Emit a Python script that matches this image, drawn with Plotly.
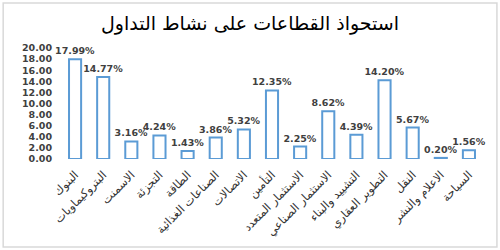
import plotly.graph_objects as go

categories = ["البنوك", "البتروكيماويات", "الاسمنت", "التجزئة", "الطاقة",
              "الصناعات الغذائية", "الاتصالات", "التأمين", "الاستثمار المتعدد",
              "الاستثمار الصناعي", "التشييد والبناء", "التطوير العقاري", "النقل",
              "الاعلام والنشر", "السياحة"]
values = [17.99, 14.77, 3.16, 4.24, 1.43, 3.86, 5.32, 12.35, 2.25, 8.62,
          4.39, 14.20, 5.67, 0.20, 1.56]
y_ticks = [0, 2, 4, 6, 8, 10, 12, 14, 16, 18, 20]
title_text = "استحواذ القطاعات على نشاط التداول"

fig = go.Figure(go.Bar(
    x=categories, y=values,
    width=0.43,
    marker=dict(color="white", line=dict(color="#5b9bd5", width=2)),
    texttemplate="%{y:.2f}%", textposition="outside", constraintext="none",
    textfont=dict(family="DejaVu Sans", size=9.5, color="#404040", weight="bold"),
    cliponaxis=False,
))

fig.update_layout(
    width=500, height=250,
    margin=dict(l=61, r=17, t=48, b=91),
    paper_bgcolor="white", plot_bgcolor="white",
    showlegend=False,
    title=dict(text=title_text, x=0.5, xanchor="center", y=0.905, yanchor="middle",
               font=dict(family="DejaVu Sans", size=19, color="#000000")),
    xaxis=dict(tickangle=-45, tickfont=dict(family="DejaVu Sans", size=11.5, color="#333333"),
               ticklabelstandoff=6,
               showgrid=False, showline=False, ticks="", range=[-0.5, 14.5]),
    yaxis=dict(range=[0, 20], tickvals=y_ticks, tickformat=".2f", ticksuffix="%",
               tickfont=dict(family="DejaVu Sans", size=9.5, color="#404040", weight="bold"),
               ticklabelstandoff=8,
               showgrid=False, showline=False, zeroline=False, ticks=""),
    shapes=[dict(type="rect", xref="paper", yref="paper",
                 x0=-0.137, x1=1.033, y0=-0.793, y1=1.405,
                 line=dict(color="#d9d9d9", width=1.5), layer="below")],
    bargap=0.5,
)

fig.write_html("out.html")
